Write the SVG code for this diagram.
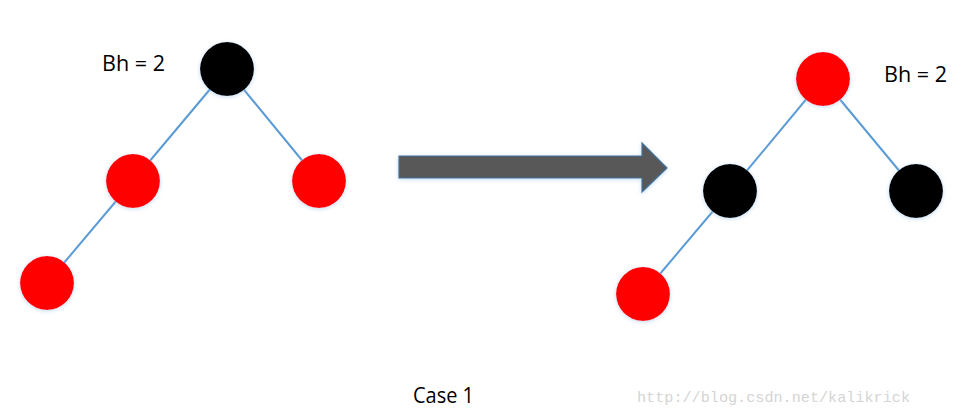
<svg xmlns="http://www.w3.org/2000/svg" width="972" height="417" viewBox="0 0 972 417">
<defs>
<filter id="glow" x="-30%" y="-30%" width="160%" height="160%">
<feGaussianBlur in="SourceAlpha" stdDeviation="2"/>
<feOffset dx="0" dy="1" result="b"/>
<feFlood flood-color="#9dc3e6" flood-opacity="0.6"/>
<feComposite in2="b" operator="in"/>
<feMerge><feMergeNode/><feMergeNode in="SourceGraphic"/></feMerge>
</filter>
<style>
.edge{stroke:#5b9bd5;stroke-width:2;fill:none}
.red{fill:#ff0000;filter:url(#glow)}
.black{fill:#000000;filter:url(#glow)}
.lbl{font-family:"Open Sans","Noto Sans",sans-serif;font-size:21px;fill:#000}
.wm{font-family:"Liberation Mono",monospace;font-size:15px;fill:#d4d4d4}
</style>
</defs>
<rect width="972" height="417" fill="#ffffff"/>
<g id="connectors">
<line class="edge" x1="227" y1="69" x2="133" y2="181"/>
<line class="edge" x1="227" y1="69" x2="319" y2="181"/>
<line class="edge" x1="133" y1="181" x2="47" y2="283"/>
<line class="edge" x1="823" y1="79" x2="730" y2="191"/>
<line class="edge" x1="823" y1="79" x2="916" y2="191"/>
<line class="edge" x1="730" y1="191" x2="643" y2="294"/>
</g>
<g id="L-root"><circle class="black" cx="227" cy="69" r="27"/></g>
<g id="L-left"><circle class="red" cx="133" cy="181" r="27"/></g>
<g id="L-right"><circle class="red" cx="319" cy="181" r="27"/></g>
<g id="L-leftleft"><circle class="red" cx="47" cy="283" r="27"/></g>
<g id="R-root"><circle class="red" cx="823" cy="79" r="27"/></g>
<g id="R-left"><circle class="black" cx="730" cy="191" r="27"/></g>
<g id="R-right"><circle class="black" cx="916" cy="191" r="27"/></g>
<g id="R-leftleft"><circle class="red" cx="643" cy="294" r="27"/></g>
<g id="arrow">
<polygon points="399,156 642,156 642,143 667,168 642,192 642,178 399,178" fill="#595959" stroke="#41719c" stroke-width="1.2" filter="url(#glow)"/>
</g>
<g id="labels">
<text class="lbl" x="102" y="71" textLength="63" lengthAdjust="spacingAndGlyphs">Bh = 2</text>
<text class="lbl" x="884" y="82" textLength="63" lengthAdjust="spacingAndGlyphs">Bh = 2</text>
<text class="lbl" x="413" y="403" textLength="61" lengthAdjust="spacingAndGlyphs">Case 1</text>
<text class="wm" x="637" y="402" textLength="273" lengthAdjust="spacingAndGlyphs">http://blog.csdn.net/kalikrick</text>
</g>
</svg>
